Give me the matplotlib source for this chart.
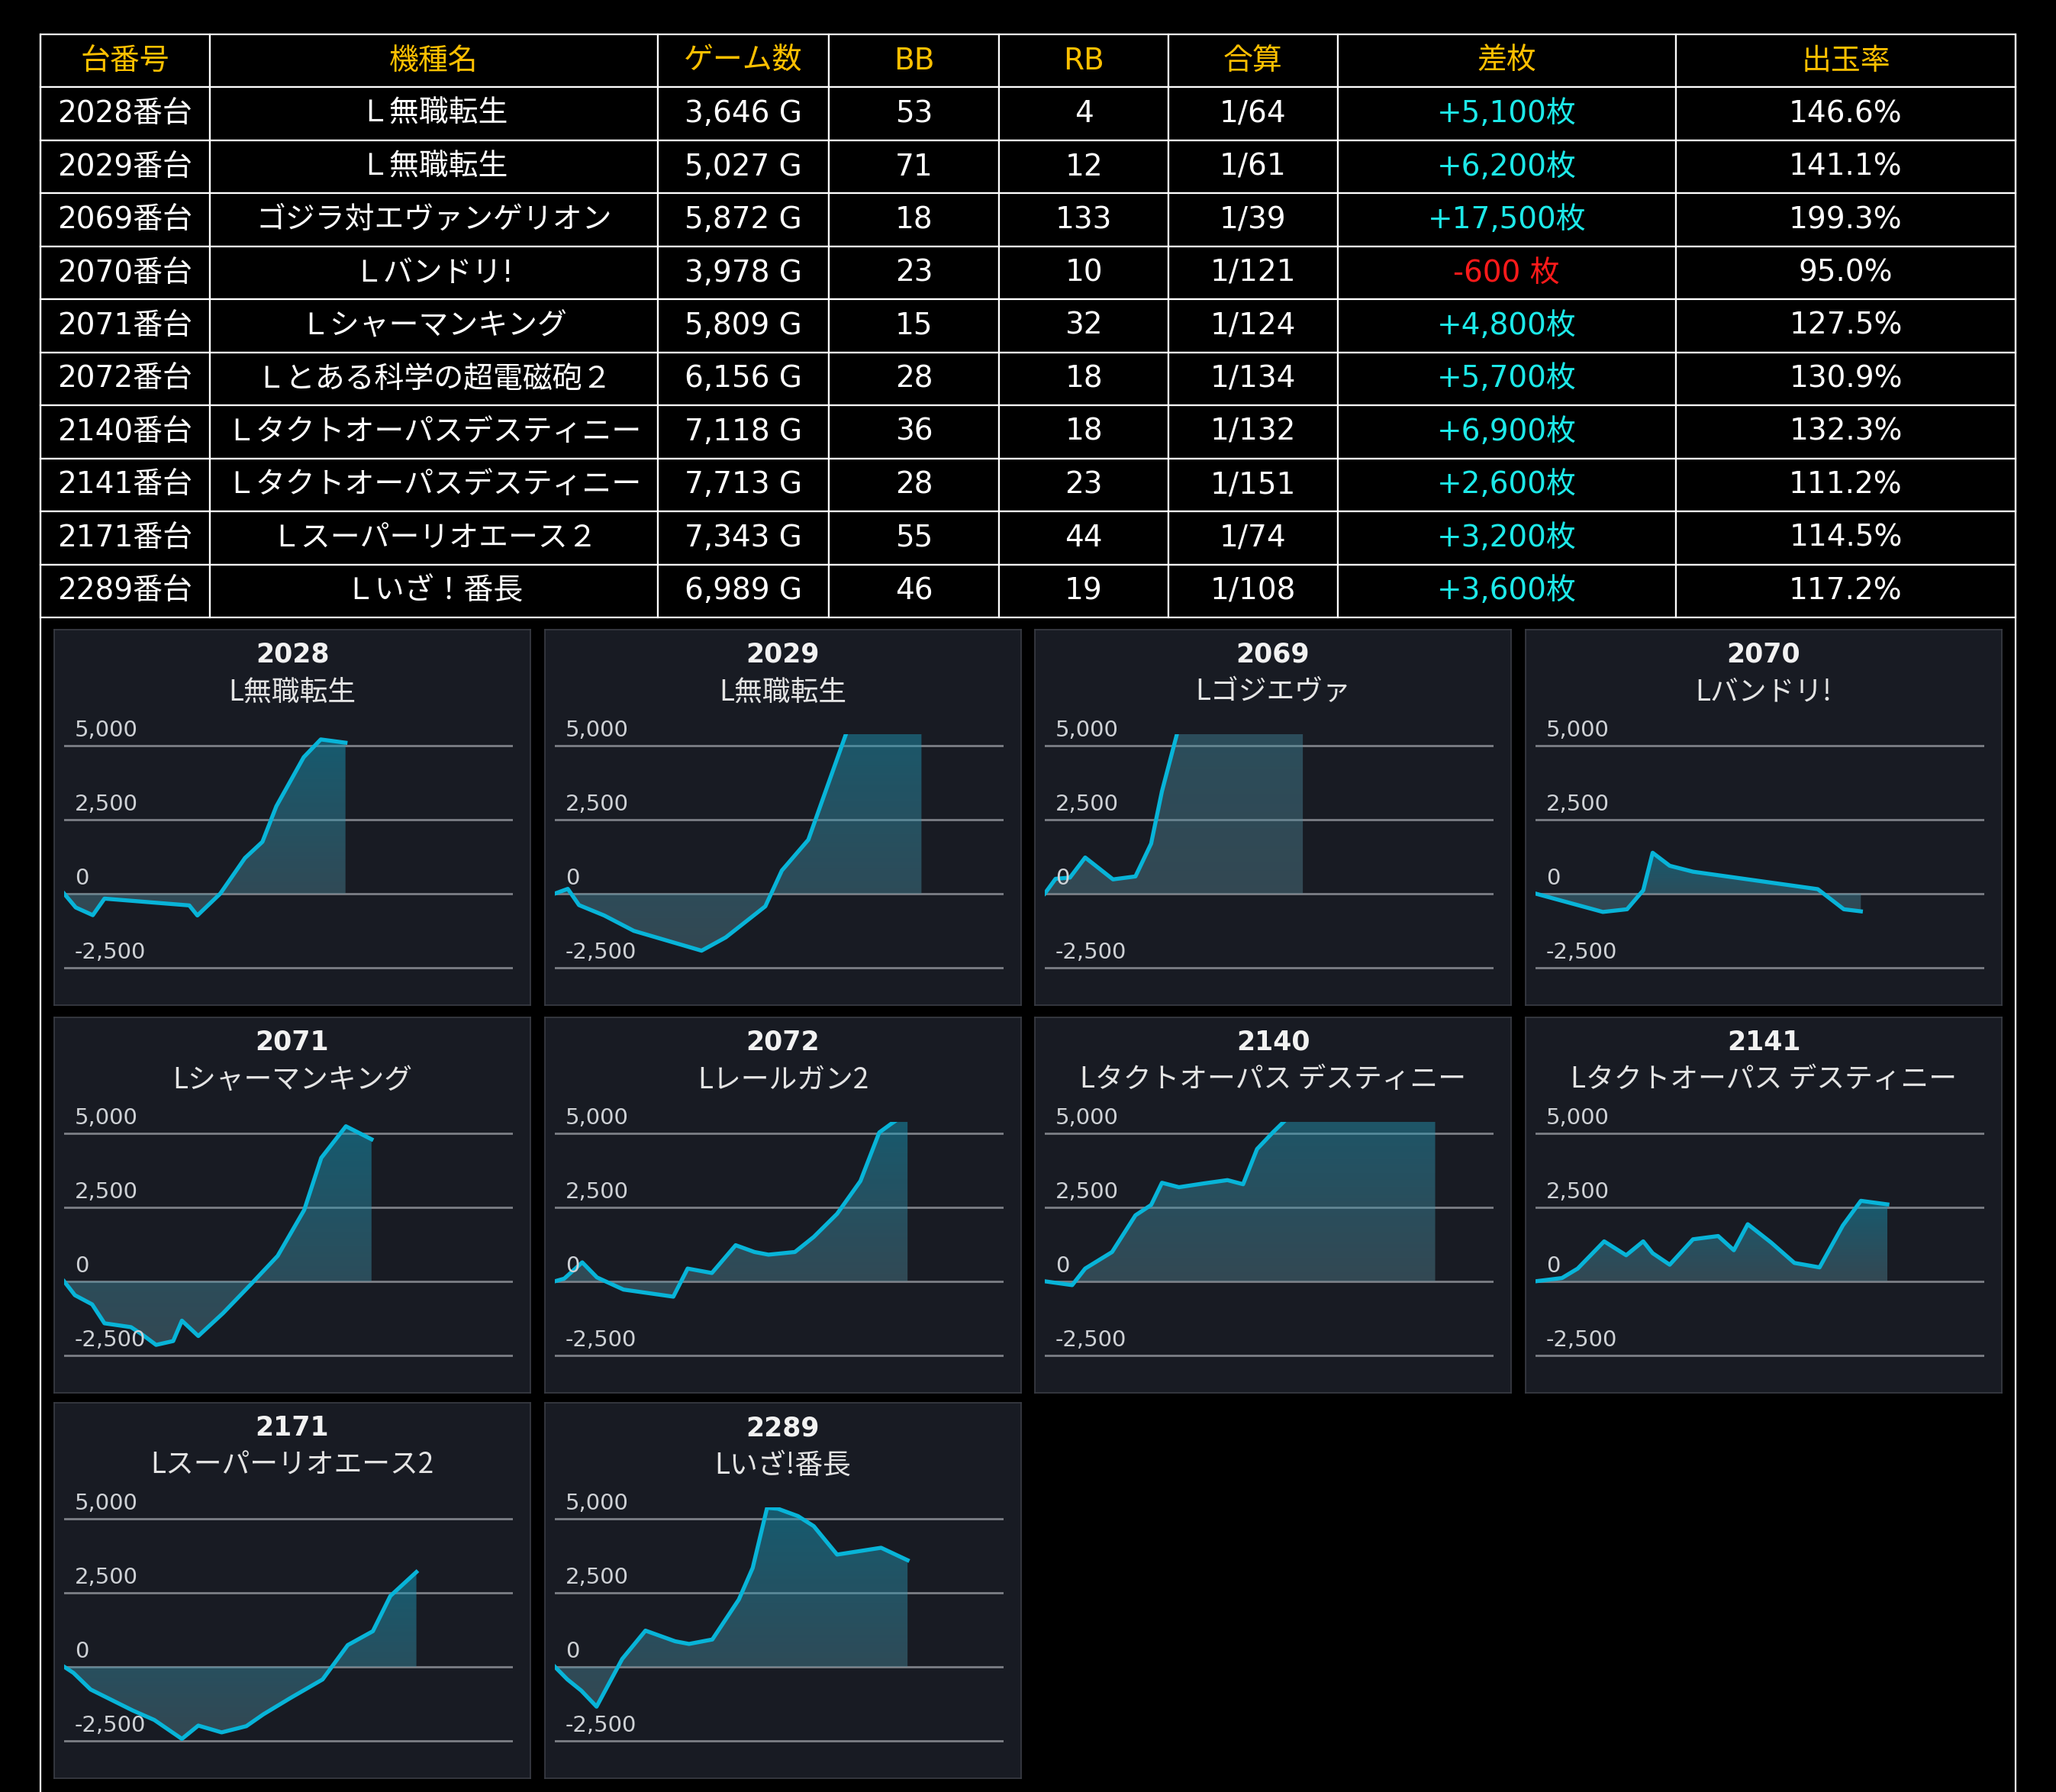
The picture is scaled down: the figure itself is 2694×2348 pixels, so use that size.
import numpy as np
import matplotlib.pyplot as plt
from matplotlib.lines import Line2D
from matplotlib.patches import PathPatch
from matplotlib.path import Path
from matplotlib.transforms import blended_transform_factory

JP = ['Noto Sans CJK JP', 'DejaVu Sans']
LATIN_JP = ['DejaVu Sans', 'Noto Sans CJK JP']

# ---- table data ----
headers = ['台番号', '機種名', 'ゲーム数', 'BB', 'RB', '合算', '差枚', '出玉率']
machine_no = ['2028', '2029', '2069', '2070', '2071', '2072', '2140', '2141', '2171', '2289']
machine_names = ['Ｌ無職転生', 'Ｌ無職転生', 'ゴジラ対エヴァンゲリオン', 'Ｌバンドリ!',
                 'Ｌシャーマンキング', 'Ｌとある科学の超電磁砲２', 'Ｌタクトオーパスデスティニー',
                 'Ｌタクトオーパスデスティニー', 'Ｌスーパーリオエース２', 'Ｌいざ！番長']
games = [3646, 5027, 5872, 3978, 5809, 6156, 7118, 7713, 7343, 6989]
bb = [53, 71, 18, 23, 15, 28, 36, 28, 55, 46]
rb = [4, 12, 133, 10, 32, 18, 18, 23, 44, 19]
combined = ['1/64', '1/61', '1/39', '1/121', '1/124', '1/134', '1/132', '1/151', '1/74', '1/108']
diff_medals = [5100, 6200, 17500, -600, 4800, 5700, 6900, 2600, 3200, 3600]
payout = [146.6, 141.1, 199.3, 95.0, 127.5, 130.9, 132.3, 111.2, 114.5, 117.2]

# ---- chart data (x: games played, y: medal difference) ----
chart_names = ['L無職転生', 'L無職転生', 'Lゴジエヴァ', 'Lバンドリ!', 'Lシャーマンキング',
               'Lレールガン2', 'Lタクトオーパス デスティニー', 'Lタクトオーパス デスティニー',
               'Lスーパーリオエース2', 'Lいざ!番長']
x_span = [5815, 6153, 10212, 5487, 8480, 7832, 8182, 9838, 9354, 8892]

x_2028 = [0, 151, 372, 523, 1622, 1727, 2024, 2343, 2570, 2750, 3105, 3326, 3646]
y_2028 = [0, -470, -730, -170, -400, -740, 0, 1200, 1750, 2950, 4610, 5210, 5100]
x_2029 = [0, 178, 332, 677, 1083, 2012, 2344, 2886, 3113, 3476, 4123, 4430, 5027]
y_2029 = [0, 160, -390, -740, -1260, -1930, -1480, -430, 780, 1820, 6300, 6800, 6200]
x_2069 = [0, 245, 572, 919, 1552, 2063, 2420, 2665, 3574, 4289, 5106, 5872]
y_2069 = [0, 500, 540, 1220, 480, 580, 1690, 3450, 8600, 12500, 15000, 17500]
x_2070 = [0, 823, 1119, 1317, 1432, 1641, 1926, 3451, 3770, 3978]
y_2070 = [0, -620, -530, 110, 1380, 940, 740, 150, -530, -600]
x_2071 = [0, 204, 530, 763, 1264, 1476, 1738, 2061, 2226, 2536, 3002, 3536, 4036, 4537, 4859, 5325, 5809]
y_2071 = [0, -470, -780, -1420, -1550, -1800, -2150, -2020, -1330, -1850, -1080, -90, 860, 2410, 4170, 5240, 4800]
x_2072 = [0, 164, 478, 736, 1198, 2068, 2318, 2741, 3156, 3485, 3728, 4190, 4519, 4926, 5334, 5662, 5882, 6156]
y_2072 = [0, 90, 640, 130, -280, -520, 430, 280, 1220, 990, 900, 990, 1500, 2280, 3390, 5030, 5340, 5700]
x_2140 = [0, 499, 736, 1227, 1653, 1939, 2136, 2446, 2905, 3330, 3616, 3870, 4157, 4582, 5318, 6218, 7118]
y_2140 = [0, -130, 430, 990, 2230, 2580, 3330, 3180, 3310, 3420, 3280, 4470, 5030, 5800, 6300, 7200, 6900]
x_2141 = [0, 580, 925, 1505, 1987, 2361, 2568, 2942, 3453, 4004, 4348, 4653, 5165, 5676, 6227, 6739, 7133, 7713]
y_2141 = [0, 110, 430, 1350, 880, 1350, 950, 560, 1420, 1530, 1050, 1930, 1310, 620, 470, 1890, 2720, 2600]
x_2171 = [0, 196, 552, 973, 1431, 1880, 2455, 2797, 3283, 3798, 4153, 4705, 5388, 5912, 6436, 6800, 7343]
y_2171 = [0, -210, -770, -1110, -1480, -1800, -2440, -1990, -2220, -2010, -1610, -1070, -430, 730, 1200, 2390, 3200]
x_2289 = [0, 249, 525, 827, 1334, 1796, 2383, 2659, 3121, 3646, 3921, 4206, 4419, 4819, 5131, 5593, 6465, 6989]
y_2289 = [0, -430, -810, -1350, 260, 1220, 860, 770, 920, 2270, 3340, 5370, 5340, 5090, 4750, 3790, 4020, 3600]

series = [(x_2028, y_2028), (x_2029, y_2029), (x_2069, y_2069), (x_2070, y_2070),
          (x_2071, y_2071), (x_2072, y_2072), (x_2140, y_2140), (x_2141, y_2141),
          (x_2171, y_2171), (x_2289, y_2289)]
y_ticks = [5000, 2500, 0, -2500]

W, H = 2694, 2348
GOLD = '#ffc000'
CYAN = '#1de9e9'
RED = '#ff1a1a'
LINE = '#08b4d8'
PANEL_BG = '#181b23'
FILL_TOP = np.array([20, 160, 195, 0.48 * 255]) / 255
FILL_BOTTOM = np.array([90, 135, 150, 0.42 * 255]) / 255


def fmt_diff(v):
    return f'+{v:,}枚' if v > 0 else f'{v:,} 枚'


def gradient_fill(ax, x, y):
    verts = [(x[0], 0)] + list(zip(x, y)) + [(x[-1], 0), (x[0], 0)]
    patch = PathPatch(Path(verts, closed=True), facecolor='none', edgecolor='none',
                      transform=ax.transData)
    ax.add_patch(patch)
    lo, hi = min(0, min(y)), max(0, max(y))
    t = np.linspace(0, 1, 256)[:, None]
    rgba = FILL_BOTTOM * (1 - t) + FILL_TOP * t
    im = ax.imshow(rgba[:, None, :], extent=[x[0], x[-1], lo, hi], origin='lower',
                   aspect='auto', interpolation='bilinear', zorder=2)
    im.set_clip_path(patch)


fig = plt.figure(figsize=(W / 100, H / 100), dpi=100, facecolor='black')

# ---- table ----
tl, tr, tt, tb = 53, 2641, 45, 809
tax = fig.add_axes([tl / W, 1 - tb / H, (tr - tl) / W, (tb - tt) / H])
tax.axis('off')
rows = []
for i in range(len(machine_no)):
    rows.append([f'{machine_no[i]}番台', machine_names[i], f'{games[i]:,} G', str(bb[i]),
                 str(rb[i]), combined[i], fmt_diff(diff_medals[i]), f'{payout[i]:.1f}%'])
col_w = [129, 342, 130, 130, 129, 129, 258, 259]
tbl = tax.table(cellText=rows, colLabels=headers, colWidths=[w / sum(col_w) for w in col_w],
                cellLoc='center', bbox=[0, 0, 1, 1])
tbl.auto_set_font_size(False)
for (r, c), cell in tbl.get_celld().items():
    cell.set_facecolor('black')
    cell.set_edgecolor('white')
    cell.set_linewidth(1.6)
    txt = cell.get_text()
    txt.set_fontfamily(LATIN_JP)
    txt.set_fontsize(28)
    if r == 0:
        txt.set_color(GOLD)
    elif c == 6:
        txt.set_color(CYAN if diff_medals[r - 1] > 0 else RED)
    else:
        txt.set_color('white')

# outer frame continuing below the table
for xp in (tl, tr):
    fig.add_artist(Line2D([xp / W, xp / W], [1 - tt / H, 0], color='white', lw=1.6))

# ---- panels ----
panel_left = [71, 714, 1356, 1999]
panel_top = [825, 1333, 1838]
PW, PH = 624, 492

for i, (xs, ys) in enumerate(series):
    r, c = divmod(i, 4)
    left, top = panel_left[c], panel_top[r]
    bg = fig.add_axes([left / W, 1 - (top + PH) / H, PW / W, PH / H])
    bg.set_facecolor(PANEL_BG)
    bg.set_xticks([])
    bg.set_yticks([])
    for s in bg.spines.values():
        s.set_color('#3a3d45')
        s.set_linewidth(1.2)
    bg.text(0.5, 1 - 33 / PH, machine_no[i], ha='center', va='center', fontsize=25,
            fontweight='bold', color='#f2f2f2', family='DejaVu Sans')
    bg.text(0.5, 1 - 82 / PH, chart_names[i], ha='center', va='center', fontsize=26.5,
            color='#e4e4e4', family=JP)

    ax = fig.add_axes([(left + 13) / W, 1 - (top + 466) / H, 588 / W, 329.5 / H])
    ax.set_facecolor('none')
    ax.axis('off')
    trans = blended_transform_factory(ax.transAxes, ax.transData)
    for v in y_ticks:
        ax.axhline(v, color='#7c7f86', lw=2.0, zorder=1)
        ax.annotate(f'{v:,}', xy=(0.024, v), xycoords=trans, xytext=(0, 8.5),
                    textcoords='offset points', va='baseline', ha='left', fontsize=21,
                    color='#cfd2d6', family='DejaVu Sans', zorder=4)
    gradient_fill(ax, xs, ys)
    ax.plot(xs, ys, color=LINE, lw=3.8, zorder=3, solid_joinstyle='round')
    ax.set_xlim(0, x_span[i])
    ax.set_ylim(-3100, 5400)

fig.savefig('out.png', dpi=100, facecolor='black')
